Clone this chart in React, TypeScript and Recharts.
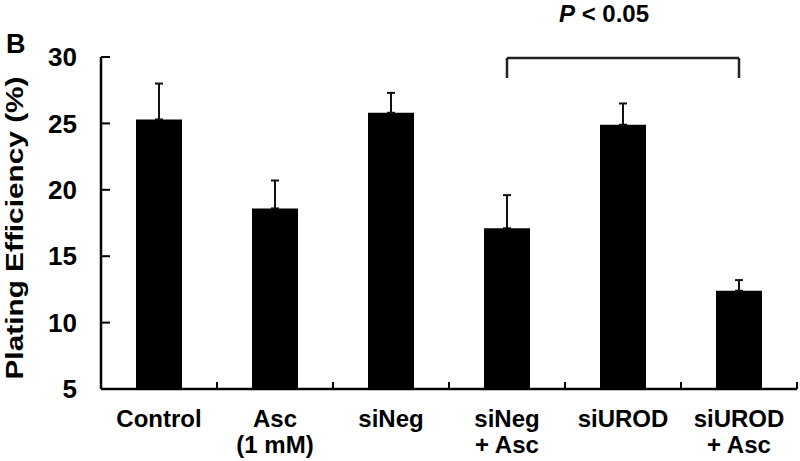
import React from 'react';
import {
  BarChart,
  Bar,
  XAxis,
  YAxis,
  ErrorBar,
  ReferenceLine,
  Customized,
} from 'recharts';

const categories = ['Control', 'Asc\n(1 mM)', 'siNeg', 'siNeg\n+ Asc', 'siUROD', 'siUROD\n+ Asc'];
const efficiency = [25.3, 18.6, 25.8, 17.1, 24.9, 12.4];
const errorUp = [2.7, 2.1, 1.5, 2.5, 1.6, 0.8];
const yTicks = [5, 10, 15, 20, 25, 30];

const FONT = '"Liberation Sans", Arial, sans-serif';
const W = 800;
const H = 461;
const Y_AXIS_W = 101;
const X_AXIS_H = 72;
const TOP = 57;
const RIGHT = 3;
const BAND = (W - Y_AXIS_W - RIGHT) / categories.length;

const chartData = categories.map((name, i) => ({
  name,
  value: efficiency[i],
  err: [0, errorUp[i]],
}));

// bracket over siNeg + Asc .. siUROD + Asc
const bracketFrom = categories[3];
const bracketTo = categories[5];
const bracketTop = 29.92;
const bracketBottom = 28.42;

const CategoryTick = (props: any) => {
  const { x, y, payload } = props;
  const lines = String(payload.value).split('\n');
  return (
    <text x={x} y={y} textAnchor="middle" fontFamily={FONT} fontWeight="bold" fontSize={24} fill="#000">
      {lines.map((l, i) => (
        <tspan key={i} x={x} dy={i === 0 ? 38 : 26}>
          {l}
        </tspan>
      ))}
    </text>
  );
};

// Excel style: small inside ticks at the edges between category bands
const BandEdgeTicks = () => {
  const base = H - X_AXIS_H;
  return (
    <g stroke="#000" strokeWidth={2}>
      {categories.map((c, i) => {
        const ex = Y_AXIS_W + BAND * (i + 1);
        return <line key={c} x1={ex} x2={ex} y1={base} y2={base - 7} />;
      })}
    </g>
  );
};

const Annotations = () => (
  <g fontFamily={FONT} fontWeight="bold" fill="#000">
    <text x={6} y={53} fontSize={27}>B</text>
    <text
      x={23}
      y={228}
      fontSize={24}
      textAnchor="middle"
      textLength={303}
      lengthAdjust="spacingAndGlyphs"
      transform="rotate(-90, 23, 228)"
    >
      Plating Efficiency (%)
    </text>
    <text x={604} y={22} fontSize={24} textAnchor="middle">
      <tspan fontStyle="italic">P</tspan> &lt; 0.05
    </text>
  </g>
);

export default function App() {
  return (
    <div style={{ position: 'fixed', left: 0, top: 0, width: W, height: H, background: '#fff' }}>
      <BarChart
        width={W}
        height={H}
        data={chartData}
        margin={{ top: TOP, right: RIGHT, bottom: 0, left: 0 }}
        barCategoryGap={0}
      >
        <XAxis
          dataKey="name"
          height={X_AXIS_H}
          tickLine={false}
          tickSize={0}
          tickMargin={0}
          axisLine={{ stroke: '#000', strokeWidth: 2.5 }}
          tick={<CategoryTick />}
          interval={0}
        />
        <YAxis
          width={Y_AXIS_W}
          domain={[5, 30]}
          ticks={yTicks}
          allowDataOverflow
          axisLine={{ stroke: '#000', strokeWidth: 2.5 }}
          tickLine={{ stroke: '#000', strokeWidth: 2 }}
          tickSize={-9}
          tickMargin={33}
          tick={{ fontFamily: FONT, fontWeight: 'bold', fontSize: 26, fill: '#000' }}
        />
        <Bar dataKey="value" fill="#000" barSize={46} isAnimationActive={false}>
          <ErrorBar dataKey="err" direction="y" width={4} stroke="#111" strokeWidth={2} />
        </Bar>
        <ReferenceLine
          segment={[{ x: bracketFrom, y: bracketTop }, { x: bracketTo, y: bracketTop }]}
          stroke="#222"
          strokeWidth={2.5}
        />
        <ReferenceLine
          segment={[{ x: bracketFrom, y: bracketTop }, { x: bracketFrom, y: bracketBottom }]}
          stroke="#222"
          strokeWidth={2.5}
        />
        <ReferenceLine
          segment={[{ x: bracketTo, y: bracketTop }, { x: bracketTo, y: bracketBottom }]}
          stroke="#222"
          strokeWidth={2.5}
        />
        <Customized component={BandEdgeTicks} />
        <Customized component={Annotations} />
      </BarChart>
    </div>
  );
}
